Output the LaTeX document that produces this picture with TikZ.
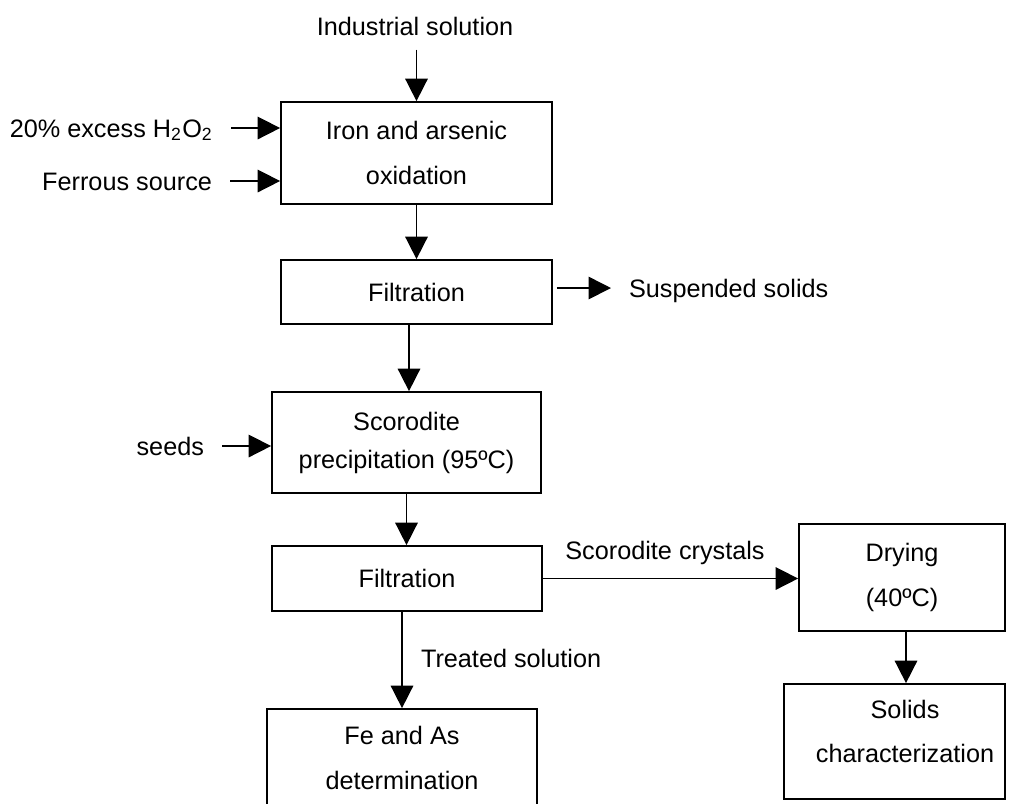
\documentclass[tikz,border=0pt]{standalone}
\usepackage{fontspec}
\setmainfont{Liberation Sans}
\usetikzlibrary{arrows.meta,calc}
\tikzset{
  flow/.style={line width=0.65pt, -{Triangle[length=9pt,width=9pt]}},
  stage/.style={draw, line width=0.7pt, align=center, inner sep=0pt, font=\fontsize{10.1}{18}\selectfont},
  lbl/.style={inner xsep=7pt, inner ysep=0pt, text height=7.2pt, text depth=0pt, font=\fontsize{10.1}{12}\selectfont}
}
\begin{document}
\begin{tikzpicture}[x=0.4pt, y=-0.4pt]
        \useasboundingbox (0,0) rectangle (1013,803);

        \node[stage, minimum width=108.4pt, minimum height=40.8pt] (oxid) at (416.5,153) {Iron and arsenic\\oxidation};
        \node[stage, minimum width=108.4pt, minimum height=25.6pt] (fil1) at (416.5,292) {Filtration};
        \node[stage, minimum width=107.6pt, minimum height=40.4pt, font=\fontsize{10.1}{15.2}\selectfont] (sco) at (406.5,442.5) {Scorodite\\precipitation (95ºC)};
        \node[stage, minimum width=108pt, minimum height=26pt] (fil2) at (407,578.5) {Filtration};
        \node[stage, minimum width=82.4pt, minimum height=42.8pt] (dry) at (902,577.5) {Drying\\(40ºC)};
        \node[stage, minimum width=88.4pt, minimum height=46pt] (sol) at (894.5,741.5) {};
        \node[align=center, font=\fontsize{10.1}{17.6}\selectfont] (solt) at (905,731) {Solids\\characterization};
        \node[stage, minimum width=108pt, minimum height=38.8pt] (feas) at (402,757.5) {Fe and As\\determination};

        \node[lbl, inner ysep=5.6pt] (ind) at (415,26) {Industrial solution};
        \node[lbl, anchor=east] (h2o2) at (231,128) {20\% excess H\textsubscript{2}O\textsubscript{2}};
        \node[lbl, anchor=east] (ferr) at (230,181) {Ferrous source};
        \node[lbl, anchor=east] (seeds) at (222,446) {seeds};
        \node[lbl, anchor=west] (susp) at (611,288) {Suspended solids};
        \node[lbl] (cryst) at (665,550) {Scorodite crystals};
        \node[lbl, anchor=west] (treat) at (403,658) {Treated solution};

        \draw[flow] (ind.south -| oxid.north) -- (oxid.north);
        \draw[flow] (h2o2) -- (h2o2 -| oxid.west);
        \draw[flow] (ferr) -- (ferr -| oxid.west);
        \draw[flow] (oxid) -- (oxid |- fil1.north);
        \draw[flow] ($(fil1.south)+(-7.5,0)$) -- ($(fil1.south |- sco.north)+(-7.5,0)$);
        \draw[flow] ($(fil1.east |- susp)+(4,0)$) -- (susp);
        \draw[flow] (seeds) -- (seeds -| sco.west);
        \draw[flow] (sco) -- (sco |- fil2.north);
        \draw[flow] (fil2) -- (fil2 -| dry.west);
        \draw[flow] (fil2.south -| feas.north) -- (feas.north);
        \draw[flow] ($(dry.south)+(4,0)$) -- ($(dry.south |- sol.north)+(4,0)$);

    \end{tikzpicture}
\end{document}
